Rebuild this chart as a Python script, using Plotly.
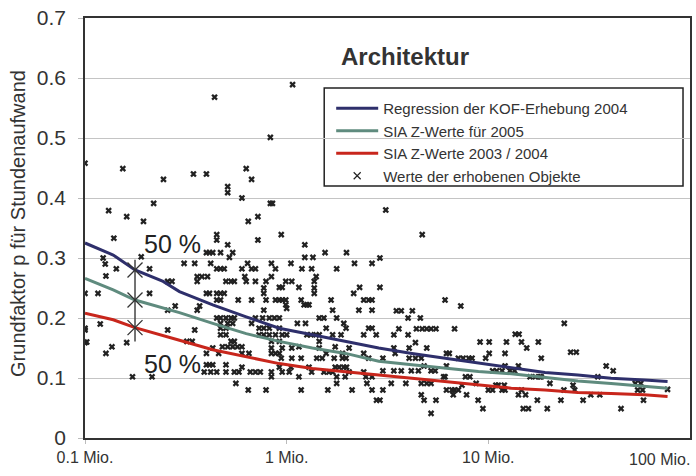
import math
import plotly.graph_objects as go

# ---------------- data ----------------
curve_x = [0.1, 0.138, 0.177, 0.244, 0.294, 0.43, 0.63, 0.918, 1.34, 1.96,
           2.86, 4.18, 6.11, 8.93, 13.0, 19.1, 27.8, 40.6, 59.4, 77.4]
kof_2004 = [0.325, 0.305, 0.28, 0.261, 0.244, 0.222, 0.202, 0.183, 0.172, 0.161,
            0.150, 0.141, 0.133, 0.124, 0.116, 0.109, 0.105, 0.0995, 0.0967, 0.094]
sia_2005 = [0.266, 0.247, 0.23, 0.216, 0.209, 0.191, 0.174, 0.161, 0.150, 0.141,
            0.128, 0.122, 0.116, 0.111, 0.107, 0.101, 0.095, 0.091, 0.086, 0.083]
sia_2003 = [0.208, 0.197, 0.184, 0.170, 0.163, 0.147, 0.136, 0.124, 0.116, 0.111,
            0.105, 0.0995, 0.094, 0.088, 0.083, 0.080, 0.076, 0.074, 0.072, 0.069]

obj_x = [
    0.439, 1.07, 0.83, 0.100, 0.154, 0.245, 0.345, 0.40, 0.63, 0.67, 0.51, 0.51, 0.60,
    0.219, 0.83, 0.85, 0.131, 0.161, 0.195, 0.645, 0.72, 0.94, 0.45, 0.45, 0.139, 0.72,
    0.123, 0.126, 0.127,
    0.51, 0.40, 0.414, 0.43, 0.47, 0.54, 0.52, 1.23, 1.55, 1.98, 1.23, 1.35,
    0.19, 0.143, 0.209, 0.31, 0.35, 0.42, 0.45, 0.47, 0.49, 0.60, 0.64, 0.67, 0.70,
    0.84, 0.88, 1.05, 1.19, 1.33, 1.77, 2.17, 2.65, 0.36, 0.38, 0.405, 0.36,
    0.50, 0.53, 0.55, 0.62, 0.63, 0.70, 0.79, 0.84, 0.77, 0.77, 0.92, 0.95, 0.99, 1.06,
    1.15, 1.37, 1.40, 1.37, 1.37, 2.30, 2.15, 0.116, 0.100, 0.209,
    0.40, 0.414, 0.45, 0.47, 0.49, 0.257, 0.27,
    0.67, 0.79, 0.88, 0.92, 0.95, 0.99, 0.575, 0.45, 0.47, 1.18, 1.66, 2.41, 2.55, 2.65,
    0.99, 1.0, 1.22, 1.26, 1.29, 0.28, 0.37, 0.36, 0.257, 0.77, 1.69, 2.28, 2.65,
    0.45, 0.47, 0.50, 0.53, 0.55, 0.47, 0.51, 0.54, 0.47, 0.50, 0.47, 0.50,
    0.67, 0.70, 0.76, 0.82, 0.87, 0.92, 0.73, 0.77, 0.82, 0.92, 0.95, 1.0,
    0.73, 0.77, 0.82, 0.88, 1.45, 1.53, 1.77, 1.13, 1.24, 1.26, 1.32, 1.40, 1.45,
    1.57, 1.69, 1.92, 1.97, 1.86, 2.41, 2.55, 2.65, 2.78,
    0.257, 0.35, 0.119, 0.100, 0.100, 0.161, 0.127, 0.136, 0.32, 0.34, 0.53, 0.55,
    0.48, 0.51, 0.54, 0.57, 0.60, 0.40, 0.43, 0.46, 0.60, 0.65,
    0.84, 0.84, 0.84, 0.92, 0.95, 0.92, 1.06, 1.15, 1.45, 1.45, 1.57, 1.74, 1.89, 2.04,
    0.94, 0.88, 1.06, 1.18, 1.41, 1.50, 1.72, 1.89, 1.97, 2.41, 2.55,
    0.40, 0.414, 0.43, 0.45, 0.42, 0.39, 0.50, 0.50, 0.55, 0.58, 0.60, 0.66, 0.70, 0.74,
    0.84, 0.84, 0.92, 0.95, 1.05, 1.03, 1.15, 1.29, 1.33,
    1.53, 1.62, 1.69, 1.74, 1.82, 1.92, 1.98, 1.77, 1.95, 2.04, 2.41, 2.47, 2.65,
    0.172, 0.215, 0.56, 0.645, 0.79, 1.18, 1.60, 1.77, 2.11, 2.50, 2.65, 2.79,
    0.100, 0.102,
    3.1, 4.7, 2.9, 2.9, 6.1, 7.3, 3.5, 3.7, 4.2, 4.0, 4.6, 4.4, 4.7, 4.95, 5.2, 5.5, 6.8,
    3.4, 3.6, 4.0, 4.35, 4.05, 4.95, 3.4, 3.45, 9.1, 10.1, 12.3, 14.6, 17.7, 13.6, 14.2,
    15.5, 10.1, 12.1, 18.3, 23.8, 25.6, 27.3, 38.4, 41.6, 4.05, 4.35, 4.65, 6.2, 6.4,
    7.1, 7.5, 8.0, 8.3, 6.2, 9.7, 10.5, 11.0, 11.7, 12.1, 12.8, 13.5, 14.1,
    16.1, 17.1, 18.0, 18.3, 3.0, 3.0, 3.4, 3.7, 4.15, 4.5, 4.8, 5.2, 5.45, 6.0, 6.1,
    7.7, 8.1, 8.7, 4.65, 4.95, 5.2, 3.3, 3.9, 3.0, 2.9, 4.65, 4.8, 5.5, 5.2,
    6.2, 6.6, 6.8, 7.1, 7.4, 7.8, 6.7, 8.9, 9.4, 10.0, 10.5, 10.9, 11.2, 11.7, 12.1, 12.0,
    14.1, 15.3, 14.6, 14.9, 15.8, 17.5, 19.6, 20.2, 22.9, 23.7, 26.8, 26.3, 29.5,
    32.2, 35.7, 34.9, 45.5, 53.5, 57.0, 55.0, 58.2, 58.8, 77.4,
]
obj_y = [
    0.568, 0.589, 0.501, 0.458, 0.449, 0.431, 0.440, 0.440, 0.449, 0.431, 0.419, 0.409, 0.400,
    0.391, 0.391, 0.391, 0.379, 0.369, 0.361, 0.361, 0.369, 0.339, 0.339, 0.330, 0.333, 0.330,
    0.300, 0.290, 0.270,
    0.322, 0.309, 0.309, 0.309, 0.309, 0.309, 0.301, 0.322, 0.309, 0.309, 0.301, 0.301,
    0.302, 0.282, 0.282, 0.291, 0.291, 0.291, 0.282, 0.282, 0.282, 0.282, 0.291, 0.282, 0.282,
    0.291, 0.282, 0.291, 0.282, 0.282, 0.282, 0.291, 0.291, 0.269, 0.269, 0.269, 0.261,
    0.261, 0.261, 0.261, 0.269, 0.261, 0.261, 0.261, 0.269, 0.250, 0.241, 0.251, 0.251, 0.261, 0.261,
    0.251, 0.261, 0.269, 0.250, 0.241, 0.251, 0.241, 0.241, 0.241, 0.241,
    0.241, 0.241, 0.241, 0.241, 0.241, 0.261, 0.261,
    0.230, 0.230, 0.230, 0.230, 0.230, 0.230, 0.230, 0.230, 0.230, 0.230, 0.230, 0.230, 0.230, 0.230,
    0.222, 0.216, 0.222, 0.222, 0.222, 0.220, 0.220, 0.213, 0.213, 0.213, 0.213, 0.213, 0.213,
    0.200, 0.200, 0.200, 0.200, 0.200, 0.191, 0.191, 0.191, 0.183, 0.183, 0.172, 0.172,
    0.191, 0.200, 0.200, 0.200, 0.200, 0.200, 0.183, 0.183, 0.183, 0.183, 0.172, 0.172,
    0.172, 0.172, 0.172, 0.172, 0.200, 0.200, 0.200, 0.191, 0.191, 0.172, 0.172, 0.172, 0.172,
    0.183, 0.172, 0.191, 0.183, 0.172, 0.172, 0.183, 0.183, 0.172,
    0.180, 0.180, 0.190, 0.180, 0.159, 0.159, 0.141, 0.152, 0.161, 0.161, 0.161, 0.161,
    0.152, 0.152, 0.152, 0.152, 0.152, 0.141, 0.150, 0.141, 0.141, 0.141,
    0.161, 0.150, 0.141, 0.161, 0.150, 0.141, 0.150, 0.152, 0.161, 0.150, 0.141, 0.152, 0.141, 0.150,
    0.133, 0.141, 0.133, 0.133, 0.133, 0.133, 0.133, 0.133, 0.133, 0.141, 0.133,
    0.122, 0.122, 0.122, 0.110, 0.110, 0.110, 0.122, 0.110, 0.110, 0.110, 0.118, 0.110, 0.110, 0.110,
    0.110, 0.102, 0.118, 0.110, 0.118, 0.110, 0.102, 0.118, 0.110,
    0.110, 0.110, 0.110, 0.118, 0.118, 0.118, 0.118, 0.102, 0.102, 0.110, 0.110, 0.102, 0.102,
    0.102, 0.102, 0.091, 0.080, 0.080, 0.080, 0.080, 0.091, 0.080, 0.091, 0.080, 0.063,
    0.183, 0.160,
    0.380, 0.339, 0.300, 0.251, 0.230, 0.220, 0.212, 0.212, 0.212, 0.200, 0.200, 0.182, 0.182, 0.182, 0.182, 0.182, 0.182,
    0.172, 0.182, 0.172, 0.159, 0.150, 0.150, 0.150, 0.141, 0.160, 0.160, 0.160, 0.160, 0.160, 0.173, 0.173,
    0.150, 0.141, 0.141, 0.133, 0.191, 0.143, 0.143, 0.120, 0.112, 0.133, 0.133, 0.133, 0.141, 0.141,
    0.133, 0.133, 0.133, 0.133, 0.120, 0.133, 0.112, 0.112, 0.112, 0.120, 0.112, 0.112, 0.120,
    0.102, 0.102, 0.102, 0.102, 0.133, 0.112, 0.112, 0.112, 0.112, 0.112, 0.120, 0.112, 0.112, 0.102, 0.102,
    0.102, 0.102, 0.091, 0.091, 0.091, 0.091, 0.091, 0.091, 0.080, 0.063, 0.072, 0.063, 0.063, 0.041,
    0.080, 0.080, 0.080, 0.080, 0.088, 0.072, 0.072, 0.063, 0.049, 0.080, 0.080, 0.088, 0.088, 0.080, 0.080, 0.088,
    0.072, 0.072, 0.080, 0.049, 0.049, 0.063, 0.049, 0.091, 0.063, 0.080, 0.080, 0.088, 0.063,
    0.072, 0.072, 0.102, 0.049, 0.091, 0.091, 0.080, 0.080, 0.063, 0.081,
]

band_x = [0.177, 0.177]
band_y = [0.161, 0.297]
cross_x = [0.177, 0.177, 0.177]
cross_y = [0.280, 0.230, 0.184]

label_x = 0.272
label_y = [0.323, 0.123]
label_text = "50 %"

tick_vals = [0.1, 1, 10]
tick_text = ["0.1 Mio.", "1 Mio.", "10 Mio."]
last_tick = "100 Mio."

names = ["Regression der KOF-Erhebung 2004", "SIA Z-Werte für 2005",
         "SIA Z-Werte 2003 / 2004", "Werte der erhobenen Objekte"]

FONT = "Liberation Sans, Arial, sans-serif"
TXT = "#333333"

fig = go.Figure()
fig.add_trace(go.Scatter(x=obj_x, y=obj_y, mode="markers", name=names[3],
                         marker=dict(symbol="x", size=5.8, color="#222222"),
                         showlegend=False))
fig.add_trace(go.Scatter(x=curve_x, y=kof_2004, mode="lines", name=names[0],
                         line=dict(color="#2e2f6b", width=3)))
fig.add_trace(go.Scatter(x=curve_x, y=sia_2005, mode="lines", name=names[1],
                         line=dict(color="#5f8b7e", width=3)))
fig.add_trace(go.Scatter(x=curve_x, y=sia_2003, mode="lines", name=names[2],
                         line=dict(color="#c8261c", width=3)))
fig.add_trace(go.Scatter(x=[None], y=[None], mode="markers", name=names[3],
                         marker=dict(symbol="x-thin-open", size=7, color="#222222",
                                     line=dict(color="#222222", width=1.2))))
fig.add_trace(go.Scatter(x=band_x, y=band_y, mode="lines", showlegend=False,
                         line=dict(color="#444444", width=1.5)))
fig.add_trace(go.Scatter(x=cross_x, y=cross_y, mode="markers", showlegend=False,
                         marker=dict(symbol="x-thin-open", size=15, color="#333333",
                                     line=dict(color="#333333", width=1.3))))

for ly in label_y:
    fig.add_annotation(x=math.log10(label_x), y=ly, text=label_text, showarrow=False,
                       font=dict(family=FONT, size=25, color="#222"))
fig.add_annotation(xref="paper", yref="paper", x=0.529, y=0.945,
                   text="<b>Architektur</b>", showarrow=False,
                   font=dict(family=FONT, size=24, color=TXT))
fig.add_annotation(xref="paper", yref="paper", x=-0.132, y=0.51,
                   text="Grundfaktor p für Stundenaufwand", textangle=-90,
                   showarrow=False, font=dict(family=FONT, size=20, color=TXT))
fig.add_annotation(xref="paper", yref="paper", x=1.004, y=-0.05, xanchor="right",
                   yanchor="middle", text=last_tick, showarrow=False,
                   font=dict(family=FONT, size=16, color=TXT))

# legend frame
fig.add_shape(type="rect", xref="paper", yref="paper",
              x0=(325 - 85) / 607, x1=(685 - 85) / 607,
              y0=(438 - 186) / 420, y1=(438 - 88) / 420,
              line=dict(color="#222222", width=1.5), fillcolor="white", layer="below")

fig.update_layout(
    width=696, height=476,
    margin=dict(l=85, r=4, t=18, b=38),
    paper_bgcolor="white", plot_bgcolor="white",
    font=dict(family=FONT, color=TXT),
    legend=dict(x=(332 - 85) / 607, y=(438 - 92) / 420, xanchor="left", yanchor="top",
                bgcolor="rgba(0,0,0,0)", borderwidth=0, itemwidth=42,
                font=dict(family=FONT, size=15, color=TXT), tracegroupgap=0),
)
fig.update_xaxes(type="log", range=[-1, 2], tickvals=tick_vals, ticktext=tick_text,
                 showgrid=False, showline=True, mirror=True, linecolor="#333333",
                 linewidth=1.5, ticks="outside", ticklen=4, tickcolor="#bbbbbb",
                 tickfont=dict(family=FONT, size=16, color=TXT), zeroline=False)
fig.update_yaxes(range=[0, 0.7], dtick=0.1, tickformat=".1~f",
                 showgrid=True, gridcolor="#c4c4c4", gridwidth=1,
                 showline=True, mirror=True, linecolor="#333333", linewidth=1.5,
                 ticks="outside", ticklen=5, tickcolor="#bbbbbb", ticklabelstandoff=8,
                 tickfont=dict(family=FONT, size=21, color=TXT), zeroline=False)

fig.write_html("out.html", config={"displayModeBar": False},
               post_script="document.body.style.margin='0';")
